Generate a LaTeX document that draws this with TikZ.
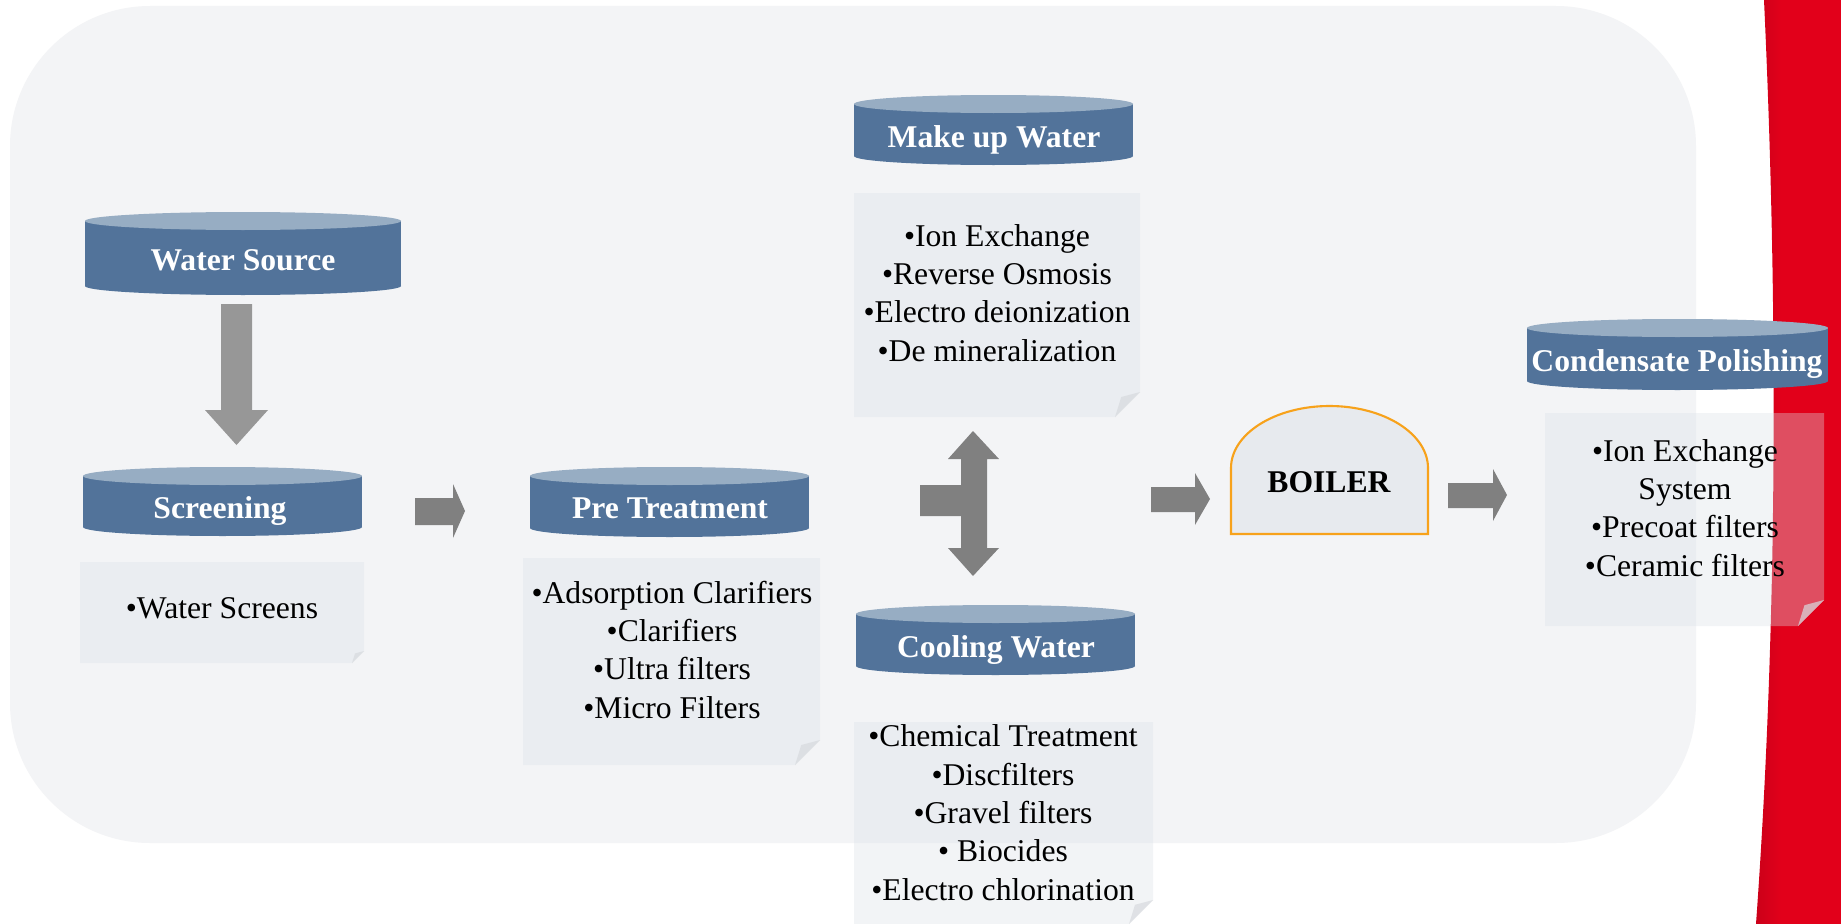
\documentclass[tikz,border=0pt]{standalone}
\usepackage{fontspec}
\setmainfont{Liberation Serif}
\usepackage{xcolor}
\definecolor{panel-gray}{HTML}{F3F4F6}
\definecolor{tank-body}{HTML}{52739A}
\definecolor{tank-top}{HTML}{97ADC3}
\definecolor{note-fill}{HTML}{DCE2E8}
\definecolor{note-fold}{HTML}{D7DADE}
\definecolor{arrow-gray}{HTML}{808080}
\definecolor{arrow-light}{HTML}{979797}
\definecolor{boiler-fill}{HTML}{E7EAEE}
\definecolor{boiler-line}{HTML}{F7A21B}
\definecolor{red-dark}{HTML}{A50018}
\definecolor{red-main}{HTML}{E2001A}
\usepackage{tikz}

\pgfdeclarehorizontalshading{red-band}{100bp}{color(0bp)=(red-dark); color(40bp)=(red-main); color(100bp)=(red-main)}

% cylinder header: centre x, half width, top y, bottom y
\newcommand{\tankhead}[4]{%
    \fill[tank-body] (#1-#2, #3) rectangle (#1+#2, #4);
    \fill[tank-body] (#1, #4) ellipse [x radius=#2, y radius=9];
    \fill[tank-top] (#1, #3) ellipse [x radius=#2, y radius=9];
}
% note sheet with folded corner: x1, y1, x2, y2, fold
\newcommand{\notepad}[5]{%
    \fill[note-fill, fill opacity=0.35] (#1, #2) -- (#3, #2) -- (#3, #4-#5) -- (#3-#5, #4) -- (#1, #4) -- cycle;
    \fill[note-fold, fill opacity=0.7] (#3-#5, #4) -- (#3, #4-#5) -- (#3-0.75*#5, #4-0.8*#5) -- cycle;
}

\begin{document}
\begin{tikzpicture}[x=0.01cm, y=-0.01cm,
    tank text/.style={font=\fontsize{9}{10.9}\selectfont\bfseries, text=white, inner sep=0, anchor=base},
    list text/.style={font=\fontsize{9}{10.9}\selectfont, align=center, inner sep=0, anchor=base}]

    \useasboundingbox (0, 0) rectangle (1841, 924);

    % Background
    \fill[white] (0, 0) rectangle (1841, 924);
    \shade[shading=red-band]
        (1764, 0) .. controls (1778, 300) and (1778, 620) .. (1756, 924) -- (1841, 924) -- (1841, 0) -- cycle;
    \fill[panel-gray, rounded corners=1.4cm] (10, 6) rectangle (1696, 843);

    % Water source
    \tankhead{243}{158}{221}{286}
    \node[tank text] (src) at (243, 270) {Water Source};
    \fill[arrow-light] (221, 304) -- (252, 304) -- (252, 410) -- (268, 410) -- (236.5, 445)
        -- (205, 410) -- (221, 410) -- cycle;

    % Screening
    \tankhead{222.5}{139.5}{476}{527}
    \node[tank text] (scr) at (220, 518) {Screening};
    \notepad{80}{562}{364}{663}{12}
    \node[list text] (scrlist) at (222, 618) {•Water Screens};
    \fill[arrow-gray] (415, 498) -- (453, 498) -- (453, 484) -- (465, 511) -- (453, 538)
        -- (453, 525) -- (415, 525) -- cycle;

    % Pre treatment
    \tankhead{669.5}{139.5}{476}{528}
    \node[tank text] (pre) at (670, 518) {Pre Treatment};
    \notepad{523}{558}{820}{765}{25}
    \node[list text] (prelist) at (672, 718) {•Adsorption Clarifiers\\•Clarifiers\\•Ultra filters\\•Micro Filters};

    % Split arrow
    \fill[arrow-gray] (920, 485) -- (961, 485) -- (961, 459) -- (948, 459) -- (973, 431) -- (999, 459)
        -- (987, 459) -- (987, 548) -- (999, 548) -- (973, 576) -- (948, 548) -- (961, 548)
        -- (961, 516) -- (920, 516) -- cycle;

    % Make up water
    \tankhead{993.5}{139.5}{104}{156}
    \node[tank text] (mkup) at (994, 147) {Make up Water};
    \notepad{854}{193}{1140}{417}{25}
    \node[list text] (mkuplist) at (997, 361) {•Ion Exchange\\•Reverse Osmosis\\•Electro deionization\\•De mineralization};

    % Cooling water
    \tankhead{995.5}{139.5}{614}{666}
    \node[tank text] (cool) at (996, 657) {Cooling Water};
    \notepad{854}{722}{1153}{924}{24}
    \node[list text] (coollist) at (1003, 900) {•Chemical Treatment\\•Discfilters\\•Gravel filters\\• Biocides\\•Electro chlorination};

    % Boiler
    \fill[arrow-gray] (1151, 487) -- (1195, 487) -- (1195, 473) -- (1210, 499) -- (1195, 525)
        -- (1195, 512) -- (1151, 512) -- cycle;
    \filldraw[fill=boiler-fill, draw=boiler-line, line width=0.6pt]
        (1231, 534) -- (1231, 468) arc [start angle=180, end angle=360, x radius=98.5, y radius=62]
        -- (1428, 534) -- cycle;
    \node[tank text, text=black] (boiler) at (1329, 492) {BOILER};
    \fill[arrow-gray] (1448, 483) -- (1493, 483) -- (1493, 469) -- (1507, 495) -- (1493, 521)
        -- (1493, 508) -- (1448, 508) -- cycle;

    % Condensate polishing
    \tankhead{1677.5}{150.5}{328}{381}
    \node[tank text] (cond) at (1677, 371) {Condensate Polishing};
    \notepad{1545}{413}{1824}{626}{26}
    \node[list text] (condlist) at (1685, 576) {•Ion Exchange\\System\\•Precoat filters\\•Ceramic filters};

\end{tikzpicture}
\end{document}
